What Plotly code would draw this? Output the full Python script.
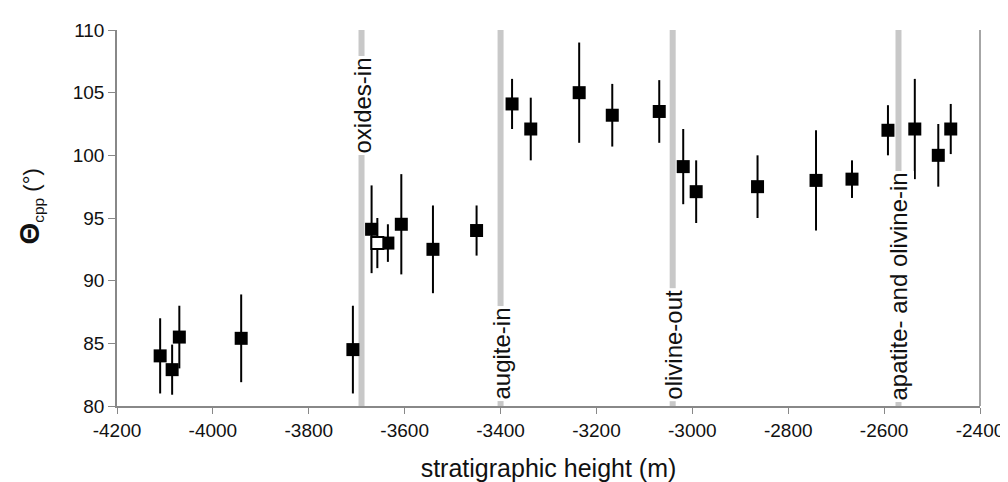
import plotly.graph_objects as go

# filled-square samples
height = [-4110, -4085, -4070, -3941, -3708, -3669, -3635, -3607, -3541, -3450,
          -3376, -3337, -3236, -3167, -3069, -3019, -2992, -2864, -2742, -2667,
          -2592, -2536, -2487, -2461]
theta = [84.0, 82.9, 85.5, 85.4, 84.5, 94.1, 93.0, 94.5, 92.5, 94.0,
         104.1, 102.1, 105.0, 103.2, 103.5, 99.1, 97.1, 97.5, 98.0, 98.1,
         102.0, 102.1, 100.0, 102.1]
err = [3.0, 2.0, 2.5, 3.5, 3.5, 3.5, 1.5, 4.0, 3.5, 2.0,
       2.0, 2.5, 4.0, 2.5, 2.5, 3.0, 2.5, 2.5, 4.0, 1.5,
       2.0, 4.0, 2.5, 2.0]

# open-square sample
open_height = [-3657]
open_theta = [93.0]
open_err = [2.0]

# phase boundaries
phase_x = [-3690, -3400, -3041, -2570]
phase_labels = ["oxides-in", "augite-in", "olivine-out", "apatite- and olivine-in"]

# axis ticks
x_ticks = [-4200, -4000, -3800, -3600, -3400, -3200, -3000, -2800, -2600, -2400]
x_tick_labels = [str(v) for v in x_ticks]
y_ticks = [80, 85, 90, 95, 100, 105, 110]

FONT = "Liberation Sans, Arial, sans-serif"

fig = go.Figure()

for px in phase_x:
    fig.add_shape(type="line", x0=px, x1=px, y0=80, y1=110, xref="x", yref="y",
                  line=dict(color="#c8c8c8", width=6), layer="below")

fig.add_trace(go.Scatter(
    x=height, y=theta, mode="markers",
    marker=dict(symbol="square", size=13, color="black"),
    error_y=dict(type="data", array=err, color="black", thickness=2, width=0),
    showlegend=False))

fig.add_trace(go.Scatter(
    x=open_height, y=open_theta, mode="markers",
    marker=dict(symbol="square", size=12, color="white", line=dict(color="black", width=2)),
    error_y=dict(type="data", array=open_err, color="black", thickness=2, width=0),
    showlegend=False))

ann_font = dict(family=FONT, size=24, color="#111")
# oxides-in: near top of panel
fig.add_annotation(x=phase_x[0], y=110, xref="x", yref="y", text=phase_labels[0],
                   showarrow=False, textangle=-90, xanchor="center", yanchor="top",
                   yshift=-26, bgcolor="white", borderpad=1, font=ann_font)
# the others: resting on the x axis
for px, lab in zip(phase_x[1:], phase_labels[1:]):
    fig.add_annotation(x=px, y=80, xref="x", yref="y", text=lab, showarrow=False,
                       textangle=-90, xanchor="center", yanchor="bottom",
                       yshift=4, bgcolor="white", borderpad=1, font=ann_font)

# y-axis title
fig.add_annotation(xref="paper", yref="paper", x=-0.10, y=0.53,
                   text="<b><span style='font-size:28px'>Θ</span></b><sub>cpp</sub> (°)",
                   showarrow=False, textangle=-90, xanchor="center", yanchor="middle",
                   font=dict(family=FONT, size=22, color="#111"))

fig.update_layout(
    width=1008, height=482,
    margin=dict(l=109, r=28, t=20, b=78),
    paper_bgcolor="white", plot_bgcolor="white",
    font=dict(family=FONT, size=19, color="#111"),
    xaxis=dict(range=[-4200, -2400], tickvals=x_ticks, ticktext=x_tick_labels,
               showgrid=False, zeroline=False,
               showline=True, linecolor="#888", linewidth=1.5,
               ticks="outside", ticklen=6, tickcolor="#888",
               title=dict(text="stratigraphic height (m)", font=dict(size=25), standoff=20)),
    yaxis=dict(range=[80, 110], tickvals=y_ticks, showgrid=False, zeroline=False,
               showline=True, linecolor="#888", linewidth=1.5, mirror=False,
               ticks="outside", ticklen=7, tickcolor="#888"),
)

# right border line
fig.add_shape(type="line", xref="paper", yref="paper", x0=1, x1=1, y0=0, y1=1,
              line=dict(color="#888", width=1.5))

fig.write_html("out.html")
